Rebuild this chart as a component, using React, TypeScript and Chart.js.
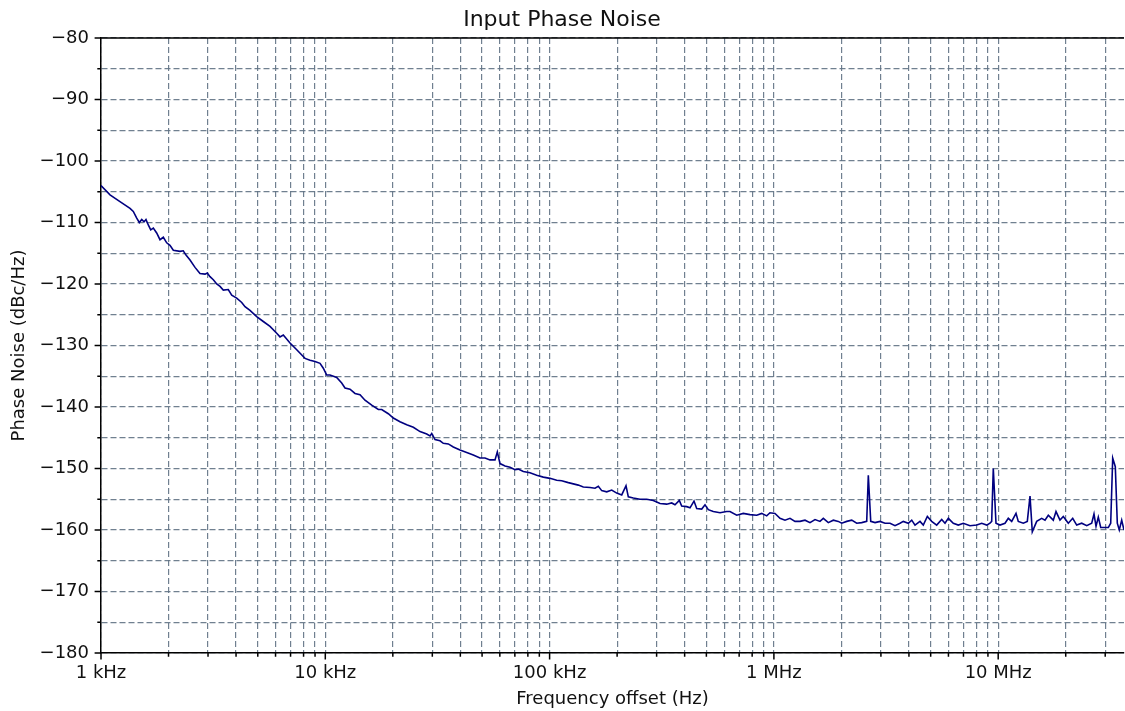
import React, { useEffect, useRef } from 'react';
import { Chart, registerables } from 'chart.js';

Chart.register(...registerables);

const TITLE = 'Input Phase Noise';
const X_LABEL = 'Frequency offset (Hz)';
const Y_LABEL = 'Phase Noise (dBc/Hz)';

const freqHz = [
  1000, 1097, 1215, 1347, 1393, 1443, 1482, 1519, 1555, 1587,
  1625, 1666, 1711, 1771, 1832, 1896, 1963, 2030, 2101, 2250,
  2327, 2393, 2494, 2625, 2763, 2909, 2978, 3062, 3168, 3280,
  3393, 3510, 3694, 3826, 4027, 4240, 4386, 4616, 4945, 5291,
  5669, 6072, 6281, 6498, 6961, 7458, 8121, 8548, 8997, 9471,
  9797, 10143, 10495, 11240, 11834, 12242, 12888, 13566, 14280, 15031,
  16105, 17234, 17844, 19096, 20102, 21528, 23069, 24690, 26442, 28330,
  29306, 29823, 30851, 32466, 33584, 35352, 37213, 39857, 42705, 45682,
  48941, 51523, 54240, 57101, 58471, 60104, 63273, 66610, 70122, 72534,
  76358, 81752, 87600, 93756, 100414, 107569, 113240, 121173, 127563, 134276,
  141345, 151398, 159386, 164900, 170750, 179750, 189220, 199190, 209690, 219120,
  224380, 236200, 252930, 270970, 289990, 310630, 332650, 350200, 362300, 378700,
  388100, 408600, 422700, 440400, 452700, 476600, 493000, 510000, 536800, 575100,
  615900, 637100, 682600, 730400, 782500, 838200, 882200, 928800, 960700, 1011300,
  1064600, 1120700, 1179700, 1241800, 1307200, 1376100, 1448700, 1525000, 1605000, 1660600,
  1748200, 1840300, 1937000, 2006000, 2112000, 2223000, 2340000, 2463000, 2593000, 2636000,
  2702000, 2824000, 2973000, 3129000, 3294000, 3467000, 3650000, 3775000, 3974000, 4116000,
  4257000, 4481000, 4635000, 4831000, 5051000, 5318000, 5599000, 5792000, 5993000, 6308000,
  6640000, 6990000, 7487000, 8021000, 8443000, 8888000, 9192000, 9354000, 9509000, 9776000,
  10186000, 10723000, 11093000, 11487000, 12006000, 12291000, 12939000, 13482000, 13863000, 14191000,
  14848000, 15626000, 16168000, 16726000, 17607000, 18100000, 18856000, 19510000, 20538000, 21489000,
  22388000, 23568000, 24810000, 26117000, 26738000, 27298000, 27946000, 28643000, 29932000, 30967000,
  31740000, 32397000, 33274000, 33963000, 34667000, 35530000, 36380000,
];

const phaseNoiseDbc = [
  -104.0, -105.5, -106.6, -107.7, -108.2, -109.3, -110.0, -109.5, -109.9, -109.5,
  -110.4, -111.2, -110.9, -111.7, -112.8, -112.4, -113.3, -113.7, -114.5, -114.7,
  -114.6, -115.3, -116.1, -117.3, -118.3, -118.4, -118.2, -118.8, -119.3, -120.0,
  -120.4, -121.0, -120.9, -121.8, -122.3, -123.0, -123.7, -124.3, -125.3, -126.1,
  -126.9, -128.0, -128.6, -128.3, -129.6, -130.7, -132.1, -132.4, -132.6, -132.9,
  -133.7, -134.8, -134.8, -135.2, -136.1, -136.9, -137.1, -137.8, -138.0, -138.9,
  -139.7, -140.4, -140.4, -141.1, -141.8, -142.4, -142.9, -143.3, -144.0, -144.4,
  -144.7, -144.3, -145.3, -145.5, -145.9, -146.0, -146.5, -147.0, -147.4, -147.8,
  -148.3, -148.3, -148.6, -148.6, -147.3, -149.2, -149.6, -149.8, -150.2, -150.1,
  -150.5, -150.7, -151.1, -151.4, -151.6, -151.9, -152.0, -152.3, -152.5, -152.7,
  -153.0, -153.1, -153.2, -152.9, -153.6, -153.8, -153.5, -154.0, -154.3, -152.8,
  -154.6, -154.8, -155.0, -155.0, -155.2, -155.7, -155.8, -155.6, -155.9, -155.2,
  -156.1, -156.2, -156.4, -155.3, -156.5, -156.6, -155.9, -156.7, -157.0, -157.2,
  -157.0, -157.0, -157.6, -157.3, -157.5, -157.6, -157.3, -157.7, -157.2, -157.3,
  -158.1, -158.4, -158.1, -158.6, -158.6, -158.4, -158.8, -158.3, -158.6, -158.1,
  -158.8, -158.4, -158.6, -158.9, -158.6, -158.4, -158.9, -158.8, -158.6, -151.1,
  -158.6, -158.8, -158.6, -158.9, -158.9, -159.3, -158.9, -158.6, -158.9, -158.4,
  -159.2, -158.6, -159.2, -157.8, -158.6, -159.2, -158.3, -158.9, -158.1, -158.9,
  -159.2, -158.9, -159.3, -159.2, -158.9, -159.2, -158.9, -158.6, -150.0, -158.9,
  -159.2, -158.9, -158.1, -158.6, -157.3, -158.6, -158.9, -158.6, -154.5, -160.3,
  -158.6, -158.1, -158.4, -157.6, -158.4, -157.0, -158.4, -157.8, -158.9, -158.1,
  -159.2, -158.9, -159.3, -158.9, -157.4, -159.4, -157.9, -159.6, -159.6, -159.6,
  -158.9, -148.3, -149.7, -158.9, -160.0, -158.4, -160.0,
];

const xMajorTicks = [1e3, 1e4, 1e5, 1e6, 1e7];
const xMajorLabels = ['1 kHz', '10 kHz', '100 kHz', '1 MHz', '10 MHz'];
const xMinorTicks = [
  2e3, 3e3, 4e3, 5e3, 6e3, 7e3, 8e3, 9e3,
  2e4, 3e4, 4e4, 5e4, 6e4, 7e4, 8e4, 9e4,
  2e5, 3e5, 4e5, 5e5, 6e5, 7e5, 8e5, 9e5,
  2e6, 3e6, 4e6, 5e6, 6e6, 7e6, 8e6, 9e6,
  2e7, 3e7,
];
const yMajorTicks = [-180, -170, -160, -150, -140, -130, -120, -110, -100, -90, -80];
const yMinorTicks = [-175, -165, -155, -145, -135, -125, -115, -105, -95, -85];

const X_MIN = 1000;
const X_MAX = 36380000;
const Y_MIN = -180;
const Y_MAX = -80;

const FONT = 'DejaVu Sans';
const GRID_COLOR = 'rgba(96,114,132,0.9)';
const LINE_COLOR = '#000080';
const TEXT_COLOR = '#111';

const fmtY = (v: number) => (v < 0 ? '\u2212' + Math.abs(v) : String(v));

const frameTicksPlugin = {
  id: 'frameTicks',
  afterDraw(chart: any) {
    const { ctx, chartArea: a, scales } = chart;
    const xs = scales.x;
    const ys = scales.y;
    ctx.save();
    ctx.strokeStyle = '#000';
    ctx.lineWidth = 1.5;
    ctx.setLineDash([]);
    ctx.beginPath();
    ctx.moveTo(a.left - 0.75, a.top);
    ctx.lineTo(a.right, a.top);
    const xt = (v: number, len: number) => {
      const p = xs.getPixelForValue(v);
      ctx.moveTo(p, a.bottom);
      ctx.lineTo(p, a.bottom + len);
    };
    const yt = (v: number, len: number) => {
      const p = ys.getPixelForValue(v);
      ctx.moveTo(a.left, p);
      ctx.lineTo(a.left - len, p);
    };
    xMajorTicks.forEach((v) => xt(v, 6.4));
    xMinorTicks.forEach((v) => xt(v, 3.7));
    yMajorTicks.forEach((v) => yt(v, 6.4));
    yMinorTicks.forEach((v) => yt(v, 3.7));
    ctx.stroke();
    ctx.restore();
  },
};

export default function App() {
  const canvasRef = useRef<HTMLCanvasElement | null>(null);

  useEffect(() => {
    document.body.style.margin = '0';
    const canvas = canvasRef.current;
    if (!canvas) return;
    Chart.defaults.font.family = FONT;
    Chart.defaults.color = TEXT_COLOR;

    const points = freqHz.map((f, i) => ({ x: f, y: phaseNoiseDbc[i] }));
    const xTickValues = [...xMajorTicks, ...xMinorTicks].sort((a, b) => a - b);
    const yTickValues = [...yMajorTicks, ...yMinorTicks].sort((a, b) => a - b);

    const chart = new Chart(canvas, {
      type: 'line',
      data: {
        datasets: [
          {
            data: points,
            borderColor: LINE_COLOR,
            backgroundColor: LINE_COLOR,
            borderWidth: 1.6,
            pointRadius: 0,
            tension: 0,
            fill: false,
          },
        ],
      },
      options: {
        animation: false,
        responsive: false,
        maintainAspectRatio: false,
        layout: { padding: { left: 0, right: 1, top: 0, bottom: 0 } },
        plugins: {
          legend: { display: false },
          tooltip: { enabled: false },
          title: {
            display: true,
            text: TITLE,
            color: TEXT_COLOR,
            font: { family: FONT, size: 22, weight: 'normal' },
            padding: { top: 7, bottom: 4.6 },
          },
        },
        scales: {
          x: {
            type: 'logarithmic',
            min: X_MIN,
            max: X_MAX,
            afterBuildTicks: (scale: any) => {
              scale.ticks = xTickValues.map((v) => ({ value: v, major: xMajorTicks.includes(v) }));
            },
            afterFit: (scale: any) => {
              scale.height = 58;
            },
            ticks: {
              autoSkip: false,
              maxRotation: 0,
              minRotation: 0,
              padding: 10,
              color: TEXT_COLOR,
              font: { family: FONT, size: 18 },
              callback: (value: any) => {
                const idx = xMajorTicks.indexOf(Number(value));
                return idx >= 0 ? xMajorLabels[idx] : '';
              },
            },
            grid: {
              color: GRID_COLOR,
              lineWidth: 1.2,
              drawTicks: false,
            },
            border: { display: true, color: '#000', width: 1.5, dash: [6, 3] },
            title: {
              display: true,
              text: X_LABEL,
              color: TEXT_COLOR,
              font: { family: FONT, size: 18 },
              padding: { top: 1, bottom: 1 },
            },
          },
          y: {
            type: 'linear',
            min: Y_MIN,
            max: Y_MAX,
            afterBuildTicks: (scale: any) => {
              scale.ticks = yTickValues.map((v) => ({ value: v }));
            },
            afterFit: (scale: any) => {
              scale.width = 101;
            },
            ticks: {
              autoSkip: false,
              padding: 12,
              color: TEXT_COLOR,
              font: { family: FONT, size: 18 },
              callback: (value: any) => {
                const v = Number(value);
                return yMajorTicks.includes(v) ? fmtY(v) : '';
              },
            },
            grid: {
              color: GRID_COLOR,
              lineWidth: 1.2,
              drawTicks: false,
            },
            border: { display: true, color: '#000', width: 1.5, dash: [6, 3] },
            title: {
              display: true,
              text: Y_LABEL,
              color: TEXT_COLOR,
              font: { family: FONT, size: 18 },
              padding: { top: 9, bottom: 9 },
            },
          },
        },
      },
      plugins: [frameTicksPlugin],
    });

    return () => chart.destroy();
  }, []);

  return (
    <div style={{ width: 1125, height: 711 }}>
      <canvas ref={canvasRef} width={1125} height={711} style={{ display: 'block' }} />
    </div>
  );
}
